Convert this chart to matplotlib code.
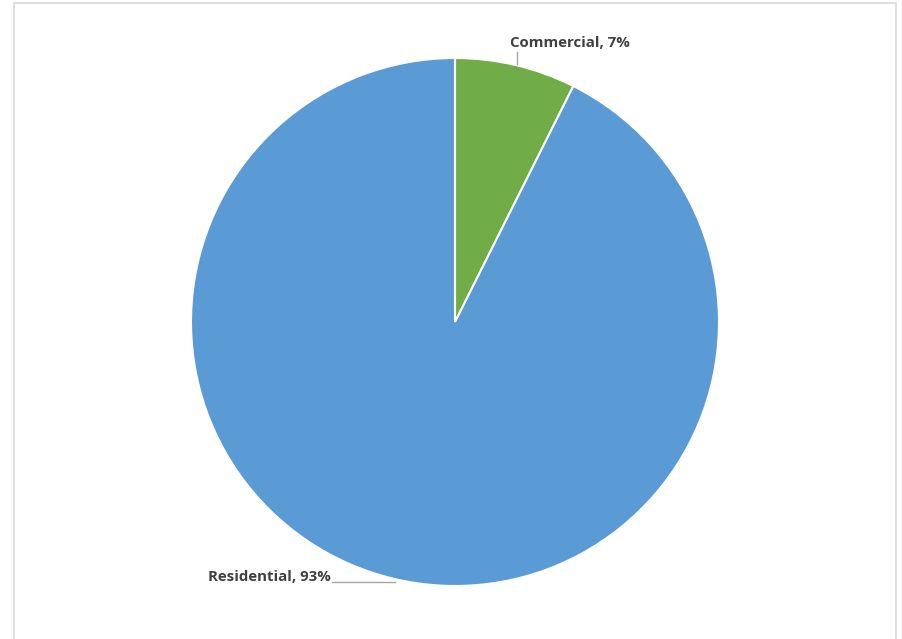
import matplotlib.pyplot as plt
from matplotlib.patches import Rectangle

labels = ['Commercial', 'Residential']
shares = [7.4, 92.6]
colors = ['#70AD47', '#5B9BD5']

W, H = 903, 639
fig = plt.figure(figsize=(W / 100, H / 100), dpi=100)
ax = fig.add_axes([0, 0, 1, 1])

# chart area frame
ax.add_patch(Rectangle((14, -5), 882, H - 3 + 5, fill=False,
                       edgecolor='#D9D9D9', linewidth=1.2))

cx, cy, r = 455, H - 322, 264
ax.pie(shares, colors=colors, startangle=90, counterclock=False,
       center=(cx, cy), radius=r, frame=True,
       wedgeprops=dict(edgecolor='white', linewidth=1.5))
ax.set_xlim(0, W)
ax.set_ylim(0, H)
ax.set_aspect('equal')
ax.axis('off')

txt = [f'{l}, {round(v):.0f}%' for l, v in zip(labels, shares)]
font = dict(family='Open Sans', fontsize=10.8, fontweight='bold', color='#404040')

# Commercial label with vertical leader
ax.text(570, H - 43, txt[0], ha='center', va='center', **font)
ax.plot([517, 517], [H - 52, H - 64], color='#A6A6A6', lw=1)

# Residential label with horizontal leader
ax.text(331, H - 577, txt[1], ha='right', va='center', **font)
ax.plot([332, 395], [H - 582, H - 582], color='#A6A6A6', lw=1)

fig.savefig('out.png', dpi=100)
